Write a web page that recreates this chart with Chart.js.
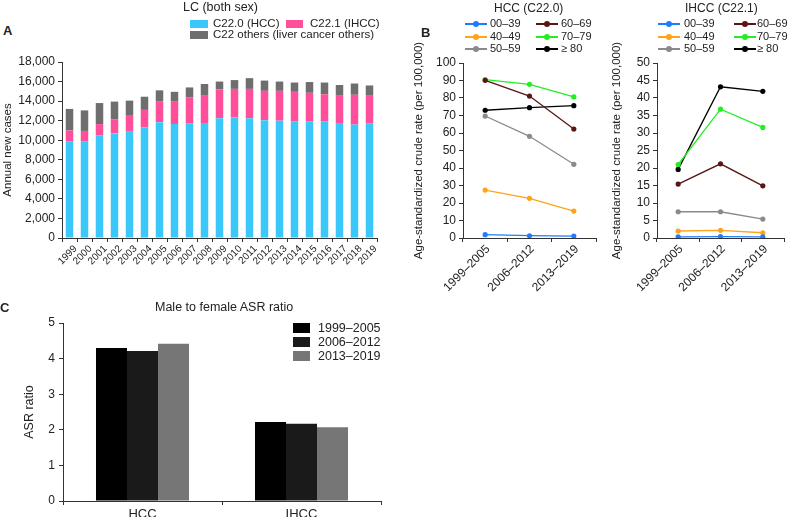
<!DOCTYPE html>
<html>
<head>
<meta charset="utf-8">
<script src="https://cdn.jsdelivr.net/npm/chart.js@4.4.0/dist/chart.umd.min.js"></script>
<style>
  body { margin: 0; background: #fff; font-family: "Liberation Sans", Arial, sans-serif; color: #222; }
  #page { position: relative; width: 788px; height: 517px; overflow: hidden; }
  canvas, .txt, .sw, .ln { position: absolute; }
  .txt { font-size: 12px; white-space: nowrap; line-height: 1; }
  .tag { font-weight: bold; font-size: 13px; }
  .sw { height: 9px; }
  .ln { height: 1.5px; width: 22px; }
  .ln i { position: absolute; left: 8px; top: -2.25px; width: 6px; height: 6px; border-radius: 50%; }
</style>
</head>
<body>
<div id="page">
  <canvas id="chartA" width="385" height="260" style="left:0;top:40px"></canvas>
  <canvas id="chartHcc" width="200" height="260" style="left:400px;top:40px"></canvas>
  <canvas id="chartIhcc" width="193" height="260" style="left:595px;top:40px"></canvas>
  <canvas id="chartC" width="390" height="217" style="left:0;top:300px"></canvas>

  <div class="txt tag" style="left:3px;top:24px">A</div>
  <div class="txt" style="left:183px;top:1px;font-size:12.5px">LC (both sex)</div>
  <div id="legendA"></div>

  <div class="txt tag" style="left:421px;top:26px">B</div>
  <div class="txt" style="left:494px;top:2px">HCC (C22.0)</div>
  <div class="txt" style="left:685px;top:2px">IHCC (C22.1)</div>
  <div id="legendHcc"></div>
  <div id="legendIhcc"></div>

  <div class="txt tag" style="left:0;top:301px">C</div>
  <div class="txt" style="left:155px;top:301px;font-size:12.5px">Male to female ASR ratio</div>
  <div id="legendC"></div>
</div>
<script>
// ---- data ----
const years = ['1999','2000','2001','2002','2003','2004','2005','2006','2007','2008','2009','2010',
  '2011','2012','2013','2014','2015','2016','2017','2018','2019'];
const hccCases   = [9850,9850,10500,10700,10950,11300,11850,11650,11700,11750,12250,12350,12250,12050,12000,11900,11900,11900,11750,11600,11700];
const ihccCases  = [1150,1100,1150,1450,1550,1800,2150,2350,2700,2800,2950,2900,3000,3000,3050,3050,2950,2800,2800,3050,2850];
const otherCases = [2200,2100,2150,1800,1550,1350,1100,950,1000,1200,800,900,1100,1050,950,950,1100,1200,1100,1150,1050];

const periods = ['1999–2005','2006–2012','2013–2019'];
const ageGroups = ['00–39','40–49','50–59','60–69','70–79','≥ 80'];
const hccRates = [
  [1.9, 1.3, 1.1],
  [27.4, 22.7, 15.4],
  [69.7, 58.1, 42.1],
  [90.1, 81.1, 62.3],
  [90.5, 87.8, 80.6],
  [73.0, 74.5, 75.6]
];
const ihccRates = [
  [0.3, 0.4, 0.3],
  [2.0, 2.2, 1.5],
  [7.5, 7.5, 5.4],
  [15.4, 21.2, 14.9],
  [21.0, 36.8, 31.6],
  [19.6, 43.2, 41.9]
];

const ratioTypes = ['HCC','IHCC'];
const ratio1999 = [4.30, 2.22];
const ratio2006 = [4.21, 2.17];
const ratio2013 = [4.42, 2.07];

// ---- styles ----
const ageColors = ['#1f7cff','#ffa31a','#8a8a8a','#5a1515','#22ee22','#000000'];
const caseColors = ['#3ac8fa','#ff4f9a','#6e6e6e'];
const ratioColors = ['#000000','#1a1a1a','#767676'];

Chart.defaults.font.family = '"Liberation Sans", Arial, sans-serif';
Chart.defaults.color = '#222';
Chart.defaults.animation = false;
Chart.defaults.plugins.legend.display = false;
Chart.defaults.plugins.tooltip.enabled = false;

function axis(extra) {
  return Object.assign({
    border: { color: '#333', width: 1 },
    grid: { drawOnChartArea: false, drawTicks: true, tickLength: 4, color: '#333' }
  }, extra);
}

function fixSize(w, h) {
  return function (scale) {
    if (w !== undefined) scale.width = w;
    if (h !== undefined) scale.height = h;
  };
}

/* Panel A: stacked bars */
new Chart(document.getElementById('chartA'), {
  type: 'bar',
  data: {
    labels: years,
    datasets: [
      { label: 'C22.0 (HCC)', data: hccCases, backgroundColor: caseColors[0] },
      { label: 'C22.1 (IHCC)', data: ihccCases, backgroundColor: caseColors[1] },
      { label: 'C22 others (liver cancer others)', data: otherCases, backgroundColor: caseColors[2] }
    ]
  },
  options: {
    responsive: false,
    layout: { padding: { top: 22, right: 8 } },
    datasets: { bar: { categoryPercentage: 0.5, barPercentage: 1 } },
    scales: {
      x: axis({
        stacked: true,
        afterFit: fixSize(undefined, 62),
        ticks: { font: { size: 10 }, minRotation: 45, maxRotation: 45, padding: 1, labelOffset: 6, autoSkip: false }
      }),
      y: axis({
        stacked: true, min: 0, max: 18000,
        afterFit: fixSize(62),
        ticks: { stepSize: 2000, font: { size: 12 }, padding: 3,
          callback: v => v.toLocaleString('en-US') },
        title: { display: true, text: 'Annual new cases', font: { size: 11.5 }, padding: { top: 1, bottom: 1 } }
      })
    }
  }
});

/* Panel B: line charts by age group */
function rateChart(id, rates, yMax, yStep, padLeft, yWidth, padRight) {
  return new Chart(document.getElementById(id), {
    type: 'line',
    data: {
      labels: periods,
      datasets: ageGroups.map((g, i) => ({
        label: g,
        data: rates[i],
        borderColor: ageColors[i],
        backgroundColor: ageColors[i],
        pointBackgroundColor: ageColors[i],
        pointBorderWidth: 0,
        pointRadius: 2.6,
        borderWidth: 1.3,
        tension: 0
      }))
    },
    options: {
      responsive: false,
      layout: { padding: { top: 23, left: padLeft, right: padRight } },
      scales: {
        x: axis({
          offset: true,
          grid: { offset: true, drawOnChartArea: false, drawTicks: true, tickLength: 4, color: '#333' },
          afterFit: fixSize(undefined, 62),
          ticks: { font: { size: 12 }, minRotation: 45, maxRotation: 45, padding: 0, labelOffset: 3 }
        }),
        y: axis({
          min: 0, max: yMax,
          afterFit: fixSize(yWidth),
          ticks: { stepSize: yStep, font: { size: 12 }, padding: 3 },
          title: { display: true, text: 'Age-standardized crude rate (per 100,000)', font: { size: 11.5 }, padding: { top: 0, bottom: 1 } }
        })
      }
    }
  });
}
rateChart('chartHcc', hccRates, 100, 10, 12, 51, 3);
rateChart('chartIhcc', ihccRates, 50, 5, 15, 47, 0);

/* Panel C: grouped bars */
new Chart(document.getElementById('chartC'), {
  type: 'bar',
  data: {
    labels: ratioTypes,
    datasets: [
      { label: '1999–2005', data: ratio1999, backgroundColor: ratioColors[0] },
      { label: '2006–2012', data: ratio2006, backgroundColor: ratioColors[1] },
      { label: '2013–2019', data: ratio2013, backgroundColor: ratioColors[2] }
    ]
  },
  options: {
    responsive: false,
    layout: { padding: { top: 23, left: 22, right: 9 } },
    datasets: { bar: { categoryPercentage: 0.585, barPercentage: 1 } },
    scales: {
      x: axis({
        afterFit: fixSize(undefined, 16),
        ticks: { font: { size: 13 }, padding: 2 }
      }),
      y: axis({
        min: 0, max: 5,
        afterFit: fixSize(41),
        ticks: { stepSize: 1, font: { size: 12 }, padding: 4 },
        title: { display: true, text: 'ASR ratio', font: { size: 12.5 }, padding: { top: 0, bottom: 2 } }
      })
    }
  }
});

// ---- html legends ----
function addText(box, x, y, text, size) {
  const d = document.createElement('div');
  d.className = 'txt';
  d.style.left = x + 'px';
  d.style.top = y + 'px';
  if (size) d.style.fontSize = size + 'px';
  d.textContent = text;
  box.appendChild(d);
}
function addSwatch(box, x, y, w, h, color) {
  const s = document.createElement('div');
  s.className = 'sw';
  s.style.left = x + 'px'; s.style.top = y + 'px';
  s.style.width = w + 'px'; s.style.height = h + 'px';
  s.style.background = color;
  box.appendChild(s);
}
function addLineKey(box, x, y, color) {
  const l = document.createElement('div');
  l.className = 'ln';
  l.style.left = x + 'px'; l.style.top = y + 'px';
  l.style.background = color;
  const dot = document.createElement('i');
  dot.style.background = color;
  l.appendChild(dot);
  box.appendChild(l);
}

const legA = document.getElementById('legendA');
addSwatch(legA, 190, 20, 18, 8, caseColors[0]); addText(legA, 213, 18, 'C22.0 (HCC)', 11.5);
addSwatch(legA, 286, 20, 17, 8, caseColors[1]); addText(legA, 310, 18, 'C22.1 (IHCC)', 11.5);
addSwatch(legA, 190, 31, 18, 8, caseColors[2]); addText(legA, 213, 29, 'C22 others (liver cancer others)', 11.5);

function lineLegend(id, x1, x2, tx1, tx2) {
  const box = document.getElementById(id);
  const rows = [23, 36, 48];
  ageGroups.forEach((g, i) => {
    const col = i < 3 ? 0 : 1;
    const y = rows[i % 3];
    addLineKey(box, col ? x2 : x1, y, ageColors[i]);
    addText(box, col ? tx2 : tx1, y - 5.5, g, 11);
  });
}
lineLegend('legendHcc', 465, 536, 490, 561);
lineLegend('legendIhcc', 658, 734, 684, 757);

const legC = document.getElementById('legendC');
const cLabels = ['1999–2005','2006–2012','2013–2019'];
cLabels.forEach((t, i) => {
  const y = 323 + i * 14;
  addSwatch(legC, 293, y, 17, 10, ratioColors[i]);
  addText(legC, 318, y - 1, t, 12.5);
});
</script>
</body>
</html>
